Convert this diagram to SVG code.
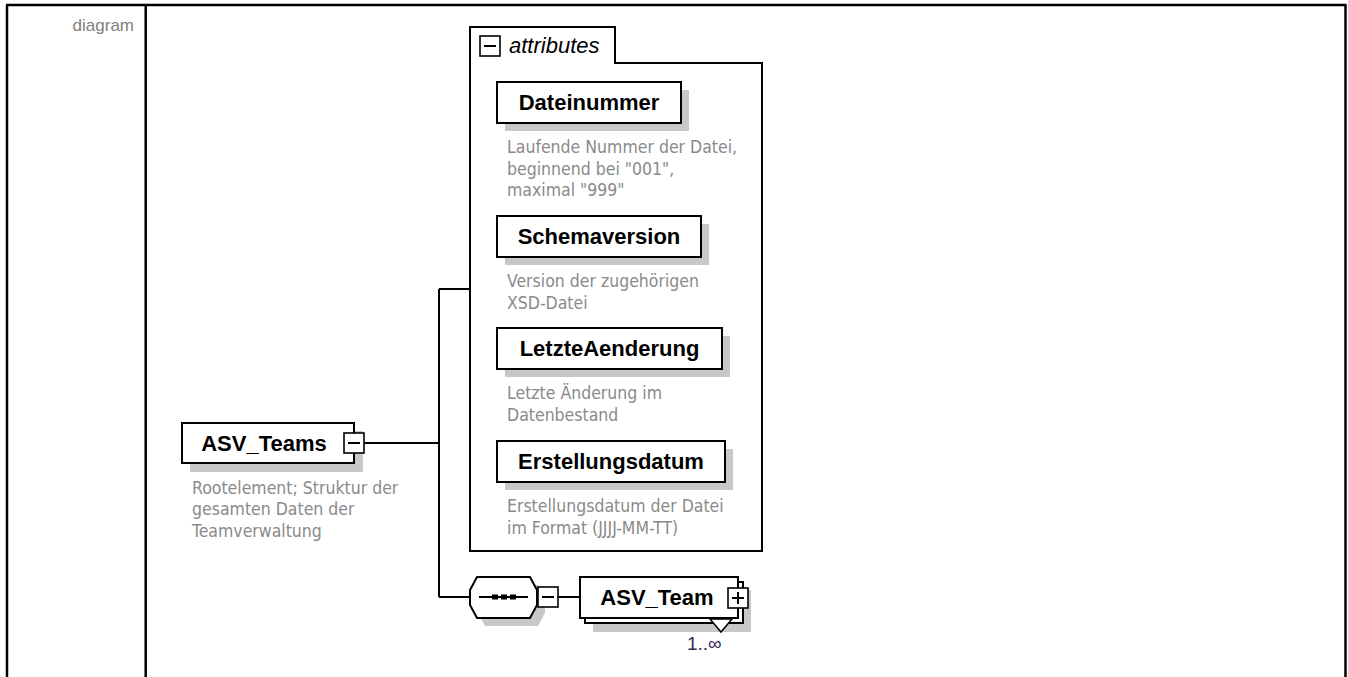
<svg xmlns="http://www.w3.org/2000/svg" width="1348" height="677" viewBox="0 0 1348 677">
<style>
.tbl{stroke:#000;stroke-width:2.5;fill:none}
.box{fill:#fff;stroke:#000;stroke-width:2}
.sh{fill:#c8c8c8;stroke:none}
.ln{stroke:#000;stroke-width:2;fill:none}
.ctl{fill:#fff;stroke:#000;stroke-width:1.6}
.name{font-family:"Liberation Sans",Arial,sans-serif;font-weight:bold;font-size:22px;fill:#000;text-anchor:middle}
.desc{font-family:"DejaVu Sans Condensed","DejaVu Sans",sans-serif;font-stretch:condensed;font-size:17.5px;fill:#8a8a8a}
.lbl{font-family:"Liberation Sans",Arial,sans-serif;font-size:17px;fill:#808080;text-anchor:end}
.att{font-family:"Liberation Sans",Arial,sans-serif;font-style:italic;font-size:22px;fill:#000}
.card{font-family:"Liberation Sans",Arial,sans-serif;font-size:19px;fill:#302858}
</style>
<rect width="1348" height="677" fill="#fff"/>
<g id="table">
<path class="tbl" d="M6 5 H1346.5 M7 5 V677 M145.7 5 V677 M1345.5 5 V677"/>
<text class="lbl" x="134" y="31">diagram</text>
</g>
<g id="connectors">
<path class="ln" d="M364 443 H439 M439 289 V597 M439 289 H470 M439 597 H470 M558 597 H580"/>
</g>
<g id="attributes">
<path class="box" d="M470 551 V27 H615 V63 H762 V551 Z"/>
<rect class="ctl" x="480" y="36" width="20" height="20"/>
<path class="ln" d="M484 46 H496" stroke-width="1.6"/>
<text class="att" x="509" y="53">attributes</text>
</g>
<g id="node-Dateinummer">
<rect class="sh" x="505" y="90" width="184" height="41"/>
<rect class="box" x="497" y="82" width="184" height="41"/>
<text class="name" x="589" y="109.5">Dateinummer</text>
<text class="desc" x="507" y="153">Laufende Nummer der Datei,</text>
<text class="desc" x="507" y="174.5">beginnend bei "001",</text>
<text class="desc" x="507" y="196">maximal "999"</text>
</g>
<g id="node-Schemaversion">
<rect class="sh" x="505" y="224" width="204" height="41"/>
<rect class="box" x="497" y="216" width="204" height="41"/>
<text class="name" x="599" y="243.5">Schemaversion</text>
<text class="desc" x="507" y="287">Version der zugehörigen</text>
<text class="desc" x="507" y="309">XSD-Datei</text>
</g>
<g id="node-LetzteAenderung">
<rect class="sh" x="505" y="336" width="225" height="41"/>
<rect class="box" x="497" y="328" width="225" height="41"/>
<text class="name" x="609.5" y="355.5">LetzteAenderung</text>
<text class="desc" x="507" y="399">Letzte Änderung im</text>
<text class="desc" x="507" y="421">Datenbestand</text>
</g>
<g id="node-Erstellungsdatum">
<rect class="sh" x="505" y="449" width="228" height="41"/>
<rect class="box" x="497" y="441" width="228" height="41"/>
<text class="name" x="611" y="468.5">Erstellungsdatum</text>
<text class="desc" x="507" y="512">Erstellungsdatum der Datei</text>
<text class="desc" x="507" y="534">im Format (JJJJ-MM-TT)</text>
</g>
<g id="node-ASV_Teams">
<rect class="sh" x="190" y="431" width="173" height="41"/>
<rect class="box" x="182" y="423" width="172" height="40"/>
<rect class="ctl" x="344" y="433" width="20" height="20"/>
<path class="ln" d="M348 443 H360" stroke-width="1.6"/>
<text class="name" x="264" y="450.5">ASV_Teams</text>
<text class="desc" x="192" y="493.5">Rootelement; Struktur der</text>
<text class="desc" x="192" y="515">gesamten Daten der</text>
<text class="desc" x="192" y="537">Teamverwaltung</text>
</g>
<g id="node-sequence">
<polygon class="sh" points="485,585 538,585 545,598 545,613 538,626 485,626 478,613 478,598"/>
<polygon class="box" points="477,577 530,577 537,590 537,605 530,618 477,618 470,605 470,590"/>
<path class="ln" d="M479 597 H528" stroke-width="1.6"/>
<rect x="492" y="594.5" width="6" height="5" fill="#000"/>
<rect x="501" y="594.5" width="6" height="5" fill="#000"/>
<rect x="510" y="594.5" width="6" height="5" fill="#000"/>
<rect class="ctl" x="538" y="587" width="20" height="20"/>
<path class="ln" d="M542 597 H554" stroke-width="1.6"/>
</g>
<g id="node-ASV_Team">
<rect class="sh" x="593" y="590" width="158" height="42"/>
<rect class="box" x="585" y="582" width="158" height="41"/>
<rect class="box" x="580" y="577" width="158" height="41"/>
<polygon points="710,619 721,632 732,619" fill="#fff" stroke="#000" stroke-width="1.5"/>
<rect class="ctl" x="728" y="588" width="20" height="20"/>
<path class="ln" d="M732 598 H744 M738 592 V604" stroke-width="1.6"/>
<text class="name" x="657" y="604.5">ASV_Team</text>
<text class="card" x="687" y="650">1..∞</text>
</g>
</svg>
